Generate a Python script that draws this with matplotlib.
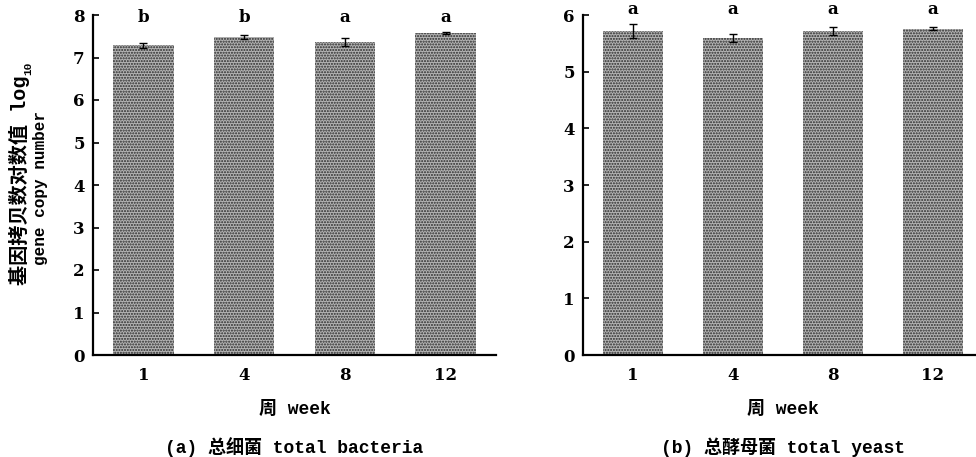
import matplotlib
matplotlib.use('Agg')
from matplotlib import pyplot as plt
import numpy as np

plt.rcParams['font.family'] = ['DejaVu Serif', 'Noto Sans CJK SC']
plt.rcParams['hatch.linewidth'] = 1.0

weeks = ['1', '4', '8', '12']

bacteria = [7.29, 7.49, 7.37, 7.57]
bacteria_err = [0.06, 0.05, 0.10, 0.02]
bacteria_sig = ['b', 'b', 'a', 'a']

yeast = [5.72, 5.59, 5.71, 5.76]
yeast_err = [0.12, 0.07, 0.07, 0.02]
yeast_sig = ['a', 'a', 'a', 'a']

mono = ['Liberation Mono', 'DejaVu Sans Mono', 'Noto Sans CJK SC']
W, H = 976, 457


def draw_panel(ax, vals, errs, sig, ymax, sig_y, caption):
    x = np.arange(len(weeks))
    ax.bar(x, vals, width=0.6, color='#b4b4b4', edgecolor='#2a2a2a',
           hatch='......', linewidth=0, zorder=2)
    ax.errorbar(x, vals, yerr=errs, fmt='none', ecolor='black',
                elinewidth=1, capsize=3, capthick=1, zorder=3)
    for xi, s in zip(x, sig):
        ax.text(xi, sig_y, s, ha='center', va='center', fontsize=12,
                fontweight='bold')
    ax.set_xlim(-0.5, 3.5)
    ax.set_ylim(0, ymax)
    ax.set_xticks(x)
    ax.set_xticklabels(weeks)
    ax.set_yticks(np.arange(0, ymax + 1))
    ax.tick_params(axis='both', direction='in', labelsize=12, width=1.2)
    ax.tick_params(axis='y', length=4, pad=6)
    ax.tick_params(axis='x', length=3, pad=9)
    for lab in ax.get_xticklabels() + ax.get_yticklabels():
        lab.set_fontweight('bold')
    for side in ['top', 'right']:
        ax.spines[side].set_visible(False)
    for side in ['left', 'bottom']:
        ax.spines[side].set_linewidth(1.6)
    ax.set_xlabel('周 week', family=mono, fontsize=13, fontweight='bold',
                  labelpad=12)
    ax.text(0.5, -0.27, caption, transform=ax.transAxes, ha='center',
            va='center', family=mono, fontsize=13, fontweight='bold')


fig = plt.figure(figsize=(W / 100, H / 100), dpi=100)
ax1 = fig.add_axes([93 / W, 1 - 355 / H, 403 / W, 340 / H])
ax2 = fig.add_axes([583 / W, 1 - 355 / H, 400 / W, 340 / H])

draw_panel(ax1, bacteria, bacteria_err, bacteria_sig, 8, 7.93,
           '(a) 总细菌 total bacteria')
draw_panel(ax2, yeast, yeast_err, yeast_sig, 6, 6.1,
           '(b) 总酵母菌 total yeast')

# two-line y label, Chinese line a bit larger, log subscript drawn apart
zh = ax1.text(-0.182, 0.515, '基因拷贝数对数值 log', transform=ax1.transAxes,
              rotation=90, ha='center', va='center', family=mono,
              fontsize=14.5, fontweight='bold')
ax1.annotate('10', xy=(1.0, 1.0), xycoords=zh, xytext=(2, 0),
             textcoords='offset points', rotation=90, ha='right',
             va='bottom', family=mono, fontsize=8, fontweight='bold')
ax1.text(-0.13, 0.49, 'gene copy number', transform=ax1.transAxes,
         rotation=90, ha='center', va='center', family=mono,
         fontsize=11.5, fontweight='bold')

fig.savefig('out.png', dpi=100)
